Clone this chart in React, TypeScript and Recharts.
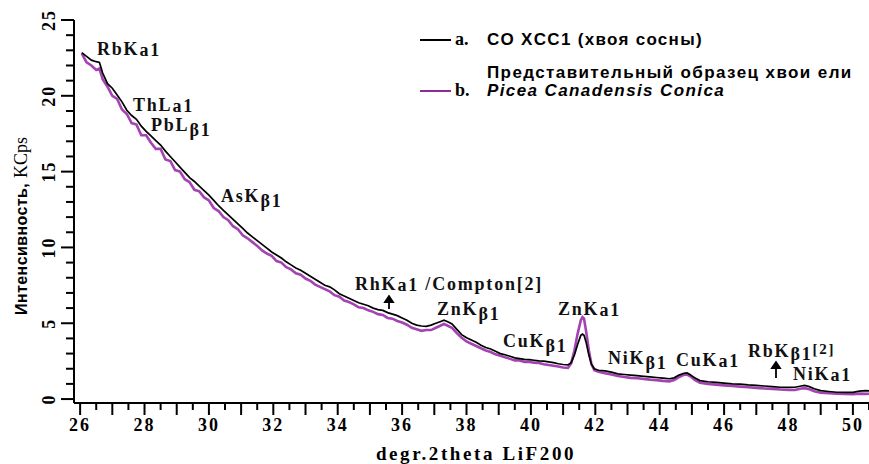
import { LineChart, Line, XAxis, YAxis } from 'recharts';

// degr. 2theta positions
const twoTheta = [
  26.05, 26.2, 26.35, 26.5, 26.6, 26.7, 26.85, 27.0, 27.15, 27.3, 27.45, 27.6, 27.75, 27.9,
  28.05, 28.2, 28.35, 28.5, 28.65, 28.8, 28.95, 29.1, 29.25, 29.4, 29.55, 29.7, 29.85, 30.0,
  30.15, 30.3, 30.45, 30.6, 30.75, 30.9, 31.05, 31.2, 31.35, 31.5, 31.65, 31.8, 31.95, 32.1,
  32.25, 32.4, 32.55, 32.7, 32.85, 33.0, 33.15, 33.3, 33.45, 33.6, 33.75, 33.9, 34.05, 34.2,
  34.35, 34.5, 34.65, 34.8, 34.95, 35.1, 35.25, 35.4, 35.55, 35.7, 35.85, 36.0, 36.15, 36.3,
  36.45, 36.6, 36.75, 36.9, 37.05, 37.2, 37.3, 37.4, 37.55, 37.7, 37.85, 38.0, 38.15, 38.3,
  38.45, 38.6, 38.75, 38.9, 39.05, 39.2, 39.35, 39.5, 39.65, 39.8, 39.95, 40.1, 40.25, 40.4,
  40.55, 40.7, 40.85, 41.0, 41.15, 41.25, 41.35, 41.45, 41.55, 41.6, 41.65, 41.72, 41.8, 41.88,
  41.97, 42.1, 42.3, 42.5, 42.7, 42.9, 43.1, 43.3, 43.5, 43.7, 43.9, 44.1, 44.3, 44.45,
  44.6, 44.75, 44.85, 44.95, 45.1, 45.25, 45.5, 45.75, 46.0, 46.25, 46.5, 46.75, 47.0, 47.25,
  47.5, 47.75, 48.0, 48.2, 48.4, 48.5, 48.65, 48.8, 49.0, 49.25, 49.5, 49.75, 50.0, 50.2,
  50.4, 50.5,
];

// a. CO XCC1 (pine needles), KCps
const sampleA = [
  22.85, 22.6, 22.35, 22.25, 22.2, 21.5, 20.8, 20.5, 20.05, 19.6, 19.05, 18.7, 18.45, 18.0,
  17.65, 17.35, 17.05, 16.75, 16.35, 16.0, 15.65, 15.3, 14.95, 14.6, 14.35, 14.05, 13.75, 13.45,
  13.1, 12.75, 12.45, 12.15, 11.85, 11.55, 11.25, 10.95, 10.7, 10.45, 10.2, 9.95, 9.7, 9.5,
  9.3, 9.05, 8.85, 8.65, 8.5, 8.3, 8.1, 7.9, 7.7, 7.5, 7.4, 7.2, 6.95, 6.8,
  6.65, 6.5, 6.35, 6.25, 6.15, 6.0, 5.9, 5.85, 5.7, 5.6, 5.5, 5.35, 5.2, 5.0,
  4.88, 4.82, 4.8, 4.88, 5.0, 5.12, 5.2, 5.12, 4.95, 4.6, 4.25, 4.05, 3.9, 3.75,
  3.55, 3.4, 3.3, 3.15, 3.0, 2.92, 2.82, 2.72, 2.67, 2.62, 2.6, 2.56, 2.52, 2.5,
  2.45, 2.4, 2.33, 2.28, 2.25, 2.4, 2.9, 3.6, 4.2, 4.28, 4.2, 3.7, 2.9, 2.3,
  2.0, 1.9, 1.86, 1.78, 1.66, 1.62, 1.58, 1.54, 1.5, 1.46, 1.42, 1.38, 1.34, 1.4,
  1.58, 1.7, 1.72, 1.6, 1.38, 1.22, 1.14, 1.1, 1.05, 1.0, 0.98, 0.93, 0.9, 0.86,
  0.82, 0.78, 0.77, 0.78, 0.86, 0.9, 0.82, 0.68, 0.56, 0.5, 0.45, 0.44, 0.44, 0.52,
  0.55, 0.54,
];

// b. representative spruce needle sample, KCps
const sampleB = [
  22.8, 22.2, 22.0, 21.7, 21.8, 21.1, 20.6, 20.0, 19.8, 19.1, 18.8, 18.2, 18.1, 17.4,
  17.4, 16.9, 16.5, 16.5, 15.8, 15.7, 15.1, 15.0, 14.5, 14.3, 13.8, 13.7, 13.3, 13.1,
  12.6, 12.4, 12.0, 11.8, 11.4, 11.2, 10.8, 10.6, 10.35, 10.1, 9.8, 9.6, 9.45, 9.1,
  9.0, 8.7, 8.55, 8.3, 8.2, 7.95, 7.8, 7.55, 7.4, 7.25, 7.1, 6.85, 6.75, 6.5,
  6.4, 6.25, 6.05, 6.0, 5.85, 5.75, 5.6, 5.55, 5.35, 5.3, 5.15, 5.05, 4.9, 4.7,
  4.6, 4.5, 4.55, 4.55, 4.7, 4.85, 4.95, 4.85, 4.7, 4.35, 4.05, 3.8, 3.65, 3.5,
  3.35, 3.2, 3.1, 2.95, 2.85, 2.75, 2.65, 2.55, 2.55, 2.45, 2.45, 2.4, 2.38, 2.3,
  2.25, 2.2, 2.15, 2.08, 2.05, 2.35, 3.2, 4.3, 5.2, 5.4, 5.3, 4.4, 3.2, 2.3,
  1.9, 1.8, 1.7, 1.62, 1.52, 1.45, 1.4, 1.38, 1.32, 1.28, 1.25, 1.2, 1.17, 1.25,
  1.45, 1.6, 1.62, 1.5, 1.25, 1.08, 1.0, 0.95, 0.9, 0.86, 0.82, 0.78, 0.74, 0.7,
  0.67, 0.63, 0.6, 0.6, 0.7, 0.72, 0.65, 0.52, 0.42, 0.38, 0.35, 0.33, 0.32, 0.36,
  0.34, 0.35,
];

const xLabels = [26, 28, 30, 32, 34, 36, 38, 40, 42, 44, 46, 48, 50];
const yLabels = [0, 5, 10, 15, 20, 25];

const xTicks = Array.from({ length: 50 }, (_, i) => 26 + i * 0.5);
const yTicks = Array.from({ length: 26 }, (_, i) => i);

const data = twoTheta.map((x, i) => ({ x, a: sampleA[i], b: sampleB[i] }));

const SERIF = '"Liberation Serif", "Times New Roman", serif';
const SANS = '"Liberation Sans", Arial, sans-serif';
const PURPLE = '#a443b2';

const XTick = (props: any) => {
  const { x, y, payload } = props;
  const v = payload.value;
  const major = Number.isInteger(v);
  return (
    <g>
      <line x1={x} x2={x} y1={y} y2={y + (major ? 12 : 7)} stroke="#000" strokeWidth={2} />
      {xLabels.includes(v) && (
        <text x={x} y={y + 28} textAnchor="middle" fontFamily={SERIF} fontWeight="bold" fontSize={18} letterSpacing={2} fill="#000">
          {v}
        </text>
      )}
    </g>
  );
};

const YTick = (props: any) => {
  const { x, y, payload } = props;
  const v = payload.value;
  const major = v % 5 === 0;
  return (
    <g>
      <line x1={x - (major ? 13 : 8)} x2={x} y1={y} y2={y} stroke="#000" strokeWidth={2} />
      {yLabels.includes(v) && (
        <text transform={`translate(${x - 19},${y}) rotate(-90)`} textAnchor="middle" fontFamily={SERIF} fontWeight="bold" fontSize={18} letterSpacing={2} fill="#000">
          {v}
        </text>
      )}
    </g>
  );
};

const Peak = ({ x, y, main, sub, beta }: { x: number; y: number; main: string; sub: string; beta?: boolean }) => (
  <text x={x} y={y} fontFamily={SERIF} fontWeight="bold" fontSize={18} letterSpacing={1.8} fill="#111">
    {main}
    <tspan dy={beta ? 5 : 1}>{sub}</tspan>
  </text>
);

export default function App() {
  return (
    <div style={{ position: 'absolute', left: 0, top: 0, width: 869, height: 464, background: '#fff' }}>
      <LineChart width={869} height={464} data={data} margin={{ top: 20, right: 0, bottom: 0, left: 0 }}>
        <XAxis
          dataKey="x"
          type="number"
          domain={[25.81, 50.5]}
          allowDataOverflow
          ticks={xTicks}
          interval={0}
          height={61}
          tickSize={0}
          tickMargin={0}
          tickLine={false}
          tick={<XTick />}
          axisLine={{ stroke: '#000', strokeWidth: 2 }}
        />
        <YAxis
          type="number"
          domain={[-0.26, 25]}
          allowDataOverflow
          ticks={yTicks}
          interval={0}
          width={74}
          tickSize={0}
          tickMargin={0}
          tickLine={false}
          tick={<YTick />}
          axisLine={{ stroke: '#000', strokeWidth: 2 }}
        />
        <Line dataKey="b" type="linear" stroke={PURPLE} strokeWidth={2.6} dot={false} isAnimationActive={false} />
        <Line dataKey="a" type="linear" stroke="#000" strokeWidth={1.7} dot={false} isAnimationActive={false} />
      </LineChart>
      <svg width={869} height={464} style={{ position: 'absolute', left: 0, top: 0, pointerEvents: 'none' }}>
        {/* axis titles */}
        <text transform="translate(27,226) rotate(-90)" textAnchor="middle" fontSize={16} fill="#000">
          <tspan fontFamily={SANS} fontWeight="bold" letterSpacing={0.4}>Интенсивность, </tspan>
          <tspan fontFamily={SERIF} fontSize={18}>KCps</tspan>
        </text>
        <text x={476} y={460} textAnchor="middle" fontFamily={SERIF} fontWeight="bold" fontSize={19} letterSpacing={2.6} fill="#000">
          degr.2theta LiF200
        </text>

        {/* legend */}
        <line x1={420} x2={451} y1={40} y2={40} stroke="#000" strokeWidth={2} />
        <text x={455} y={45} fontFamily={SERIF} fontWeight="bold" fontSize={18} fill="#000">a.</text>
        <text x={487} y={45} fontFamily={SANS} fontWeight="bold" fontSize={17} letterSpacing={1.3} fill="#000">
          CO XCC1 (хвоя сосны)
        </text>
        <line x1={420} x2={451} y1={91} y2={91} stroke="#8e2c93" strokeWidth={2} />
        <text x={455} y={96} fontFamily={SERIF} fontWeight="bold" fontSize={18} fill="#000">b.</text>
        <text x={487} y={78} fontFamily={SANS} fontWeight="bold" fontSize={17} letterSpacing={1.4} fill="#000">
          Представительный образец хвои ели
        </text>
        <text x={487} y={96} fontFamily={SANS} fontWeight="bold" fontStyle="italic" fontSize={17} letterSpacing={1.4} fill="#000">
          Picea Canadensis Conica
        </text>

        {/* peak labels */}
        <Peak x={97} y={55} main="RbK" sub="a1" />
        <Peak x={133} y={111} main="ThL" sub="a1" />
        <Peak x={151} y={131} main="PbL" sub="β1" beta />
        <Peak x={221} y={202} main="AsK" sub="β1" beta />
        <text x={355} y={290} fontFamily={SERIF} fontWeight="bold" fontSize={18} letterSpacing={1.8} fill="#111">
          RhK<tspan dy={1}>a1</tspan><tspan dy={-1}> /Compton[2]</tspan>
        </text>
        <Peak x={437} y={315} main="ZnK" sub="β1" beta />
        <Peak x={558} y={315} main="ZnK" sub="a1" />
        <Peak x={503} y={347} main="CuK" sub="β1" beta />
        <Peak x={608} y={364} main="NiK" sub="β1" beta />
        <Peak x={676} y={366} main="CuK" sub="a1" />
        <text x={748} y={357} fontFamily={SERIF} fontWeight="bold" fontSize={18} letterSpacing={1.8} fill="#111">
          RbK<tspan dy={3}>β1</tspan><tspan dy={-6} fontSize={15}>[2]</tspan>
        </text>
        <Peak x={793} y={380} main="NiK" sub="a1" />

        {/* arrows */}
        <g stroke="#000" strokeWidth={1.8} fill="#000">
          <line x1={389} x2={389} y1={309} y2={300} />
          <path d="M385,302 L389,296 L393,302 Z" />
          <line x1={776} x2={776} y1={378} y2={366} />
          <path d="M772,368 L776,362 L780,368 Z" />
        </g>
      </svg>
    </div>
  );
}
